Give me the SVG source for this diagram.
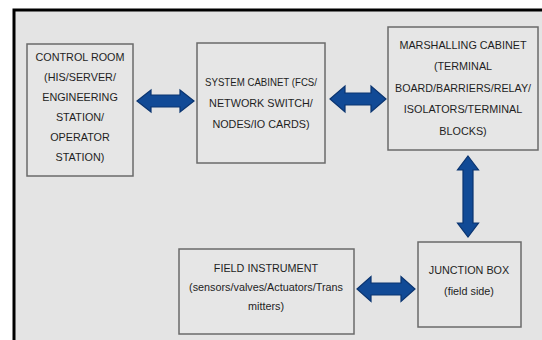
<svg xmlns="http://www.w3.org/2000/svg" width="542" height="340" viewBox="0 0 542 340">
<style>
.box{fill:#e6e6e6;stroke:#6a6a6a;stroke-width:1.5}
.t{font-family:"Liberation Sans",Arial,sans-serif;font-size:10.8px;fill:#1e1e1e;text-anchor:middle}
.arr{fill:#114a96;stroke:#0a3470;stroke-width:1.2;stroke-linejoin:miter}
</style>
<rect x="0" y="0" width="542" height="340" fill="#ffffff"/>
<rect x="13" y="9" width="529" height="331" fill="#e4e4e4"/>
<path d="M14 340 V10 H542" fill="none" stroke="#000" stroke-width="3"/>
<g id="control-room">
<rect class="box" x="27" y="44" width="106" height="132"/>
<text class="t" x="80" y="61">CONTROL ROOM</text>
<text class="t" x="80" y="81">(HIS/SERVER/</text>
<text class="t" x="80" y="101">ENGINEERING</text>
<text class="t" x="80" y="121">STATION/</text>
<text class="t" x="80" y="141">OPERATOR</text>
<text class="t" x="80" y="161">STATION)</text>
</g>
<g id="system-cabinet">
<rect class="box" x="197" y="43" width="128" height="120"/>
<text class="t" x="261" y="86" textLength="112" lengthAdjust="spacingAndGlyphs">SYSTEM CABINET (FCS/</text>
<text class="t" x="261" y="107">NETWORK SWITCH/</text>
<text class="t" x="261" y="128">NODES/IO CARDS)</text>
</g>
<g id="marshalling-cabinet">
<rect class="box" x="388" y="27" width="150" height="123"/>
<text class="t" x="463" y="49">MARSHALLING CABINET</text>
<text class="t" x="463" y="70">(TERMINAL</text>
<text class="t" x="463" y="92" textLength="136" lengthAdjust="spacingAndGlyphs">BOARD/BARRIERS/RELAY/</text>
<text class="t" x="463" y="113">ISOLATORS/TERMINAL</text>
<text class="t" x="463" y="135">BLOCKS)</text>
</g>
<g id="junction-box">
<rect class="box" x="418" y="242" width="103" height="85"/>
<text class="t" x="469" y="274">JUNCTION BOX</text>
<text class="t" x="469" y="295">(field side)</text>
</g>
<g id="field-instrument">
<rect class="box" x="179" y="249" width="175" height="85"/>
<text class="t" x="266" y="272">FIELD INSTRUMENT</text>
<text class="t" x="266" y="291">(sensors/valves/Actuators/Trans</text>
<text class="t" x="266" y="310">mitters)</text>
</g>
<g id="connectors">
<path class="arr" d="M137 101 L151 90 V95 H180 V90 L194 101 L180 112 V107 H151 V112 Z"/>
<path class="arr" d="M330 99 L345 86 V93 H371 V86 L386 99 L371 112 V105 H345 V112 Z"/>
<path class="arr" d="M468 156 L478.5 170 H473 V223 H478.5 L468 237 L457.5 223 H463 V170 H457.5 Z"/>
<path class="arr" d="M357 289 L371 276.5 V283 H401 V276.5 L415 289 L401 301.5 V295 H371 V301.5 Z"/>
</g>
</svg>
